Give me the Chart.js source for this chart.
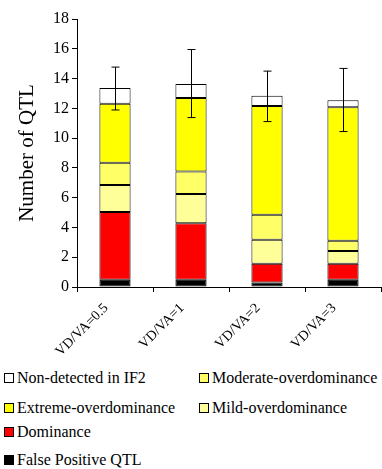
<!DOCTYPE html>
<html>
<head>
<meta charset="utf-8">
<script src="https://cdn.jsdelivr.net/npm/chart.js@4"></script>
<style>
    body { margin: 0; background: #fff; font-family: "Liberation Serif", "Times New Roman", Times, "DejaVu Serif", serif; }
    #wrap { position: relative; width: 382px; height: 469px; }
    #chart { position: absolute; left: 0; top: 0; }
    .leg { position: absolute; font-size: 16px; color: #000; white-space: nowrap; line-height: 16px; }
    .leg span.box { display: inline-block; width: 8px; height: 8px; border: 1px solid #000; margin-right: 3px; vertical-align: 0px; }
</style>
</head>
<body>
<div id="wrap">
    <canvas id="chart" width="382" height="360"></canvas>
    <div id="legend"></div>
</div>
<script>
// data
const categories = ['VD/VA=0.5', 'VD/VA=1', 'VD/VA=2', 'VD/VA=3'];
const falsePositive = [0.49, 0.49, 0.31, 0.49];
const dominance = [4.55, 3.79, 1.25, 1.07];
const mildOver = [1.81, 1.97, 1.61, 0.85];
const moderateOver = [1.49, 1.51, 1.69, 0.69];
const extremeOver = [3.97, 4.93, 7.30, 8.97];
const nonDetected = [1.05, 0.94, 0.69, 0.47];
const errTop = [14.77, 15.95, 14.50, 14.68];
const errBottom = [11.89, 11.38, 11.11, 10.44];
const yTicks = [0, 2, 4, 6, 8, 10, 12, 14, 16, 18];

const series = [
    { label: 'False Positive QTL', data: falsePositive, color: '#000000' },
    { label: 'Dominance', data: dominance, color: '#FF0000' },
    { label: 'Mild-overdominance', data: mildOver, color: '#FFFF99' },
    { label: 'Moderate-overdominance', data: moderateOver, color: '#FFFF66' },
    { label: 'Extreme-overdominance', data: extremeOver, color: '#FFFF00' },
    { label: 'Non-detected in IF2', data: nonDetected, color: '#FFFFFF' }
];

const errorBars = {
    id: 'errorBars',
    afterDatasetsDraw(chart) {
        let ctx = chart.ctx;
        let x = chart.scales.x, y = chart.scales.y;
        ctx.save();
        ctx.strokeStyle = '#000';
        ctx.lineWidth = 1;
        categories.forEach((c, i) => {
            let cx = Math.round(x.getPixelForValue(i)) + 0.5;
            let t = y.getPixelForValue(errTop[i]);
            let b = y.getPixelForValue(errBottom[i]);
            ctx.beginPath();
            ctx.moveTo(cx, t); ctx.lineTo(cx, b);
            ctx.moveTo(cx - 4, t); ctx.lineTo(cx + 4, t);
            ctx.moveTo(cx - 4, b); ctx.lineTo(cx + 4, b);
            ctx.stroke();
        });
        ctx.restore();
    }
};

const family = '"Liberation Serif", "Times New Roman", Times, "DejaVu Serif", serif';

new Chart(document.getElementById('chart'), {
    type: 'bar',
    data: {
        labels: categories,
        datasets: series.map(s => ({
            label: s.label,
            data: s.data,
            backgroundColor: s.color,
            borderColor: '#000',
            borderWidth: 1,
            borderSkipped: false,
            categoryPercentage: 1,
            barPercentage: 0.41
        }))
    },
    options: {
        responsive: false,
        animation: false,
        layout: { padding: { top: 19, right: 1, left: 0, bottom: 0 } },
        plugins: { legend: { display: false }, tooltip: { enabled: false } },
        scales: {
            x: {
                stacked: true,
                grid: { display: true, drawOnChartArea: false, color: '#000', tickLength: 5, offset: true },
                border: { color: '#000', width: 1 },
                ticks: { color: '#000', font: { family: family, size: 14 }, maxRotation: 45, minRotation: 45, padding: 8, labelOffset: -9 },
                afterFit(scale) { scale.height = 73; }
            },
            y: {
                stacked: true,
                min: 0, max: 18,
                afterBuildTicks(scale) { scale.ticks = yTicks.map(v => ({ value: v })); },
                grid: { display: true, drawOnChartArea: false, color: '#000', tickLength: 5 },
                border: { color: '#000', width: 1 },
                ticks: { color: '#000', font: { family: family, size: 16 }, padding: 3 },
                title: { display: true, text: 'Number of QTL', color: '#000', font: { family: family, size: 21 }, padding: { top: 15, bottom: 0 } },
                afterFit(scale) { scale.width = 77; }
            }
        }
    },
    plugins: [errorBars]
});

// legend laid out as in the picture (two columns, ragged rows)
const legendItems = [
    { s: 5, left: 4, top: 370 },
    { s: 3, left: 199, top: 370 },
    { s: 4, left: 4, top: 400 },
    { s: 2, left: 199, top: 400 },
    { s: 1, left: 4, top: 424 },
    { s: 0, left: 4, top: 452 }
];
let legend = document.getElementById('legend');
legendItems.forEach(it => {
    let d = document.createElement('div');
    d.className = 'leg';
    d.style.left = it.left + 'px';
    d.style.top = it.top + 'px';
    let box = document.createElement('span');
    box.className = 'box';
    box.style.background = series[it.s].color;
    d.appendChild(box);
    d.appendChild(document.createTextNode(series[it.s].label));
    legend.appendChild(d);
});
</script>
</body>
</html>
